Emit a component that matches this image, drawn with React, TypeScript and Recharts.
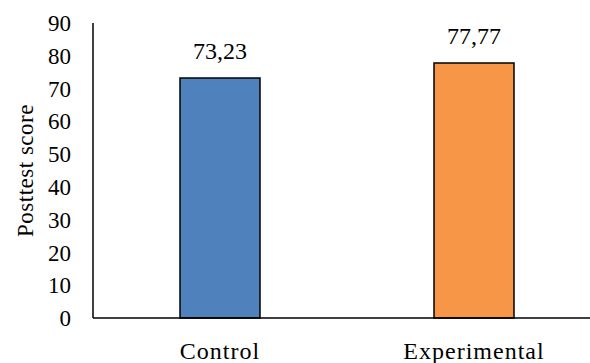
import React from 'react';
import { BarChart, Bar, XAxis, YAxis, Cell, LabelList, Label } from 'recharts';

const categories = ['Control', 'Experimental'];
const values = [73.23, 77.77];
const barColors = ['#4F81BD', '#F79646'];
const yTicks = [0, 10, 20, 30, 40, 50, 60, 70, 80, 90];
const yAxisTitle = 'Posttest score';

const data = categories.map((name, i) => ({ name, value: values[i] }));

const FONT = '"Liberation Serif", "Times New Roman", serif';

export default function App() {
  return (
    <div
      style={{
        position: 'absolute',
        left: 0,
        top: 0,
        width: 590,
        height: 363,
        overflow: 'hidden',
        background: '#fff',
      }}
    >
      <BarChart
        width={610}
        height={363}
        data={data}
        margin={{ top: 23, right: 9, left: 0, bottom: 0 }}
      >
        <XAxis
          dataKey="name"
          height={45}
          axisLine={{ stroke: '#000', strokeWidth: 1.5 }}
          tickLine={false}
          tickSize={0}
          tickMargin={24}
          tick={{ fill: '#000', fontSize: 24, fontFamily: FONT, letterSpacing: 1 }}
        />
        <YAxis
          width={93}
          domain={[0, 90]}
          ticks={yTicks}
          interval={0}
          axisLine={{ stroke: '#000', strokeWidth: 1.5 }}
          tickLine={false}
          tickSize={0}
          tickMargin={22}
          tick={{ fill: '#000', fontSize: 23, fontFamily: FONT }}
        >
          <Label
            value={yAxisTitle}
            angle={-90}
            position="insideLeft"
            offset={25}
            style={{ textAnchor: 'middle', letterSpacing: 0.5 }}
            fill="#000"
            fontSize={23}
            fontFamily={FONT}
          />
        </YAxis>
        <Bar
          dataKey="value"
          barSize={80}
          stroke="#000"
          strokeWidth={1.5}
          isAnimationActive={false}
        >
          {data.map((d, i) => (
            <Cell key={d.name} fill={barColors[i]} />
          ))}
          <LabelList
            dataKey="value"
            position="top"
            offset={19}
            formatter={(v: any) => String(v).replace('.', ',')}
            fill="#000"
            fontSize={24}
            fontFamily={FONT}
          />
        </Bar>
      </BarChart>
    </div>
  );
}
